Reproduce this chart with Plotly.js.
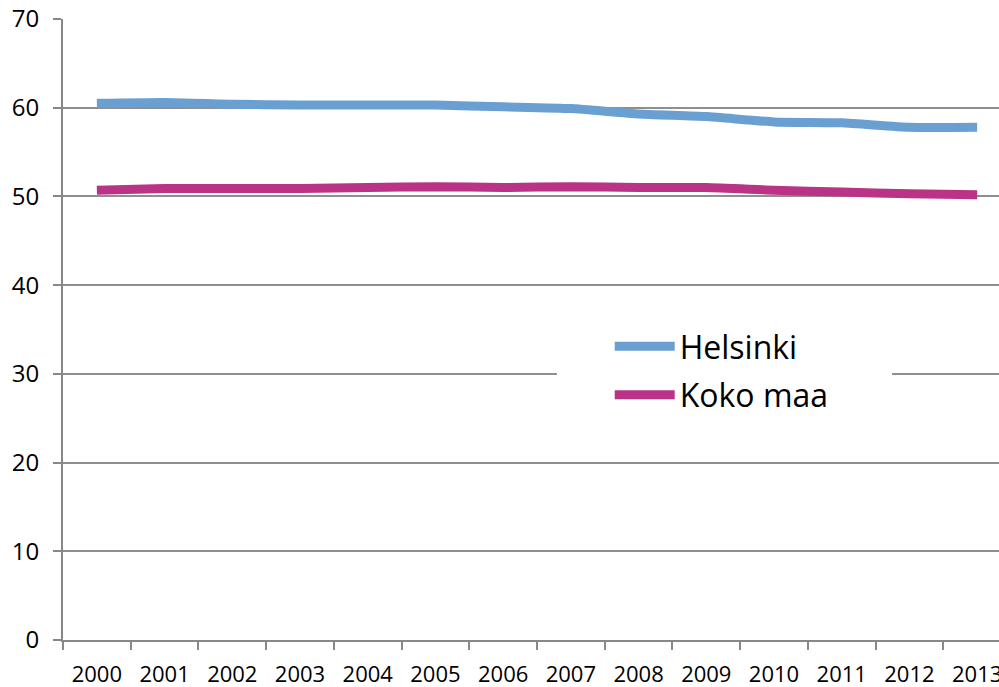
<!DOCTYPE html>
<html>
<head>
<meta charset="utf-8">
<script src="https://cdn.plot.ly/plotly-3.0.1.min.js"></script>
<style>
html,body{margin:0;padding:0;overflow:hidden;background:#fff;}
#chart{width:1012px;height:687px;}
</style>
</head>
<body>
<div id="chart"></div>
<script>
var years = ['2000','2001','2002','2003','2004','2005','2006','2007','2008','2009','2010','2011','2012','2013'];
var helsinki = [60.5, 60.6, 60.4, 60.3, 60.3, 60.3, 60.1, 59.9, 59.3, 59.0, 58.4, 58.3, 57.8, 57.8];
var kokoMaa = [50.7, 50.9, 50.9, 50.9, 51.0, 51.1, 51.0, 51.1, 51.0, 51.0, 50.7, 50.5, 50.3, 50.2];
var seriesNames = ['Helsinki', 'Koko maa'];
var yTicks = [0, 10, 20, 30, 40, 50, 60, 70];

var traces = [
  {x: years, y: helsinki, name: seriesNames[0], type: 'scatter', mode: 'lines', legendgroup: 'a',
   line: {color: '#6A9FD2', width: 9, shape: 'spline', smoothing: 0.5}},
  {x: years, y: kokoMaa, name: seriesNames[1], type: 'scatter', mode: 'lines', legendgroup: 'b',
   line: {color: '#BA3386', width: 9, shape: 'spline', smoothing: 0.5}}
];

var layout = {
  width: 1012, height: 687,
  margin: {l: 63, r: 1, t: 19, b: 47},
  paper_bgcolor: '#fff', plot_bgcolor: '#fff',
  font: {family: '"Open Sans", "Noto Sans", sans-serif', color: '#000'},
  showlegend: true,
  legend: {
    x: 0.5767, y: 0.517, xanchor: 'left', yanchor: 'top',
    bgcolor: 'rgba(0,0,0,0)', borderwidth: 0,
    font: {size: 32, color: '#000'},
    tracegroupgap: 4, itemwidth: 60
  },
  xaxis: {
    type: 'category', range: [-0.5, 13.5], fixedrange: true,
    showline: true, linecolor: '#888', linewidth: 2,
    showgrid: false, zeroline: false,
    ticks: 'outside', tickson: 'boundaries', ticklen: 8, tickwidth: 2, tickcolor: '#888',
    tickfont: {size: 22, color: '#000'}, ticklabelstandoff: 14
  },
  yaxis: {
    range: [0, 70], tickvals: yTicks, ticktext: yTicks.map(String), fixedrange: true,
    showline: true, linecolor: '#888', linewidth: 2,
    showgrid: true, gridcolor: '#8f8f8f', gridwidth: 2, zeroline: false,
    ticks: 'outside', ticklen: 8, tickwidth: 2, tickcolor: '#888',
    tickfont: {size: 24, color: '#000'}, ticklabelstandoff: 9
  },
  shapes: [
    {type: 'rect', xref: 'paper', yref: 'paper', x0: 0.521, x1: 0.8745, y0: 0.35, y1: 0.515,
     fillcolor: '#fff', line: {width: 0}, layer: 'above'}
  ]
};

Plotly.newPlot('chart', traces, layout, {displayModeBar: false, staticPlot: true});
</script>
</body>
</html>
